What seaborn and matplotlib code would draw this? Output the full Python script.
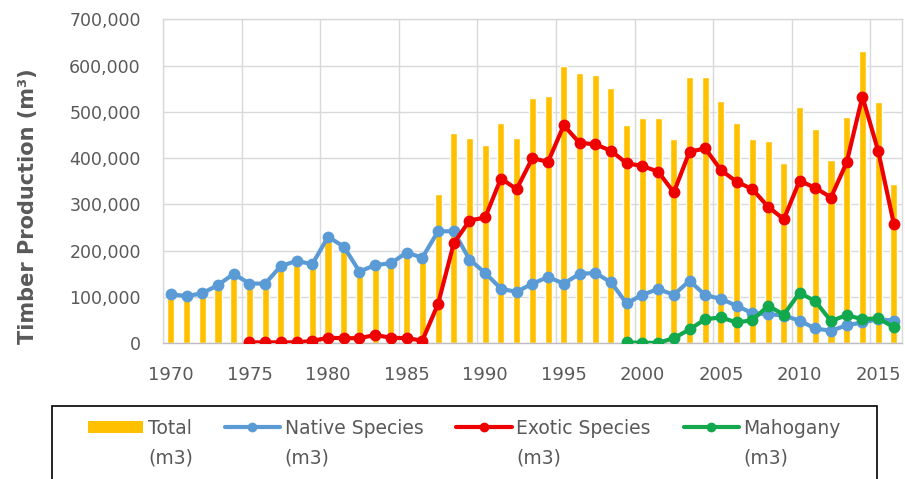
import numpy as np
import pandas as pd
import matplotlib
matplotlib.use("Agg")
import matplotlib.pyplot as plt
import seaborn as sns
from matplotlib.patches import Rectangle, Patch
from matplotlib.lines import Line2D
from matplotlib.ticker import FuncFormatter

# ---------------- data ----------------
years = list(range(1970, 2017))
total = [103000, 100000, 107000, 124000, 145000, 128000, 127000, 160000, 175000, 172000,
         222000, 212000, 160000, 180000, 182000, 200000, 185000, 322000, 455000, 444000,
         428000, 475000, 444000, 531000, 534000, 599000, 583000, 579000, 551000, 471000,
         486000, 486000, 441000, 576000, 576000, 524000, 475000, 442000, 437000, 389000,
         511000, 464000, 396000, 490000, 632000, 521000, 344000]
native = [106000, 102000, 108000, 126000, 150000, 129000, 129000, 167000, 178000, 171000,
          230000, 209000, 155000, 169000, 173000, 196000, 185000, 242000, 242000, 181000,
          152000, 118000, 111000, 129000, 143000, 129000, 150000, 152000, 132000, 86000,
          105000, 117000, 105000, 135000, 104000, 96000, 81000, 65000, 63000, 60000,
          49000, 32000, 27000, 39000, 45000, 52000, 49000]
exotic_years = list(range(1975, 2017))
exotic = [2000, 2000, 2000, 2000, 5000,
          12000, 11000, 11000, 18000, 12000, 11000, 6000, 85000, 216000, 265000,
          272000, 356000, 333000, 400000, 392000, 471000, 433000, 430000, 416000, 389000,
          383000, 371000, 326000, 414000, 421000, 374000, 349000, 333000, 295000, 268000,
          351000, 336000, 315000, 391000, 533000, 416000, 258000]
mahog_years = list(range(1999, 2017))
mahogany = [2000, 1000, 1000, 11000, 30000, 52000, 56000, 45000, 50000, 81000,
            62000, 109000, 91000, 48000, 61000, 52000, 54000, 35000]

series_labels = ["Total", "Native Species", "Exotic Species", "Mahogany"]
unit_label = "(m3)"
tick_years = list(range(1970, 2016, 5))

C_TOTAL = "#FFC000"
C_NATIVE = "#5B9BD5"
C_EXOTIC = "#EE0000"
C_MAHOG = "#12A84E"
C_TEXT = "#595959"
C_GRID = "#D9D9D9"

# ---------------- style ----------------
sns.set_theme(style="white")
plt.rcParams["font.family"] = ["DejaVu Sans"]

W, H = 905, 479
fig = plt.figure(figsize=(W / 100, H / 100), dpi=100)
ax = fig.add_axes([163 / W, 1 - 343.3 / H, (901.7 - 163) / W, (343.3 - 19.3) / H])

df_tot = pd.DataFrame({"year": years, "total": total})
sns.barplot(data=df_tot, x="year", y="total", color=C_TOTAL, saturation=1,
            width=0.45, ax=ax, zorder=2)

def pos_of(yrs):
    return [y - years[0] for y in yrs]

df_nat = pd.DataFrame({"pos": pos_of(years), "v": native})
df_exo = pd.DataFrame({"pos": pos_of(exotic_years), "v": exotic})
df_mah = pd.DataFrame({"pos": pos_of(mahog_years), "v": mahogany})

for d, c in [(df_nat, C_NATIVE), (df_exo, C_EXOTIC), (df_mah, C_MAHOG)]:
    sns.lineplot(data=d, x="pos", y="v", color=c, lw=3, marker="o", markersize=8.5,
                 markeredgewidth=0, markeredgecolor=c, ax=ax, zorder=3)

ax.set_xlim(-0.5, len(years) - 0.5)
ax.set_ylim(0, 700000)
ax.set_xlabel("")
ax.set_ylabel("Timber Production (m³)", fontsize=15, fontweight="bold", color=C_TEXT)
ax.yaxis.set_label_coords(-0.169, 0.424)

ax.set_xticks(pos_of(tick_years))
ax.set_xticklabels([str(y) for y in tick_years])
ax.set_xticks(np.arange(-0.5, len(years), 5), minor=True)
ax.set_yticks(range(0, 700001, 100000))
ax.yaxis.set_major_formatter(FuncFormatter(lambda v, p: f"{int(v):,}"))

ax.tick_params(axis="x", which="major", length=0, pad=16, labelsize=13, labelcolor=C_TEXT)
ax.tick_params(axis="x", which="minor", length=5, width=1, color="#BFBFBF", direction="out")
ax.tick_params(axis="y", which="major", length=0, pad=16, labelsize=12.5, labelcolor=C_TEXT)
ax.grid(axis="y", which="major", color=C_GRID, lw=1)
ax.grid(axis="x", which="minor", color=C_GRID, lw=1)
ax.grid(axis="x", which="major", visible=False)
ax.set_axisbelow(True)
for s in ["left", "top", "right"]:
    ax.spines[s].set_color(C_GRID)
    ax.spines[s].set_linewidth(1)
ax.spines["bottom"].set_color("#BFBFBF")
ax.spines["bottom"].set_linewidth(1)

# ---------------- legend ----------------
LFS = 13.5
handles = [
    Patch(facecolor=C_TOTAL, edgecolor="none"),
    Line2D([], [], color=C_NATIVE, lw=3, marker="o", markersize=6),
    Line2D([], [], color=C_EXOTIC, lw=3, marker="o", markersize=6),
    Line2D([], [], color=C_MAHOG, lw=3, marker="o", markersize=6),
]
leg = fig.legend(handles, series_labels, ncol=4, loc="upper left",
                 bbox_to_anchor=(0.08, 0.15), frameon=False, fontsize=LFS,
                 handlelength=2.95, handleheight=0.55, handletextpad=0.25,
                 columnspacing=1.75, labelcolor=C_TEXT, borderpad=0, borderaxespad=0)

fig.canvas.draw()
r = fig.canvas.get_renderer()
t0 = leg.get_texts()[0].get_window_extent(r)
h0 = leg.legend_handles[0].get_window_extent(r)
# target: first handle left at x=88 px, first text line centre at y=428 px (from top)
dx = 88 - h0.x0
cy = (t0.y0 + t0.y1) / 2
dy = (H - 428) - cy
leg.set_bbox_to_anchor((0.08 + dx / W, 0.15 + dy / H), transform=fig.transFigure)
fig.canvas.draw()

for t in leg.get_texts():
    e = t.get_window_extent(r)
    fig.text(e.x0 / W, (H - 458) / H, unit_label, fontsize=LFS, color=C_TEXT,
             ha="left", va="center")

fig.patches.append(Rectangle((51.7 / W, -0.05), (876.7 - 51.7) / W, 1 - 405.7 / H + 0.05,
                             transform=fig.transFigure, fill=False, edgecolor="black",
                             lw=1.2))

fig.savefig("out.png", dpi=100)
